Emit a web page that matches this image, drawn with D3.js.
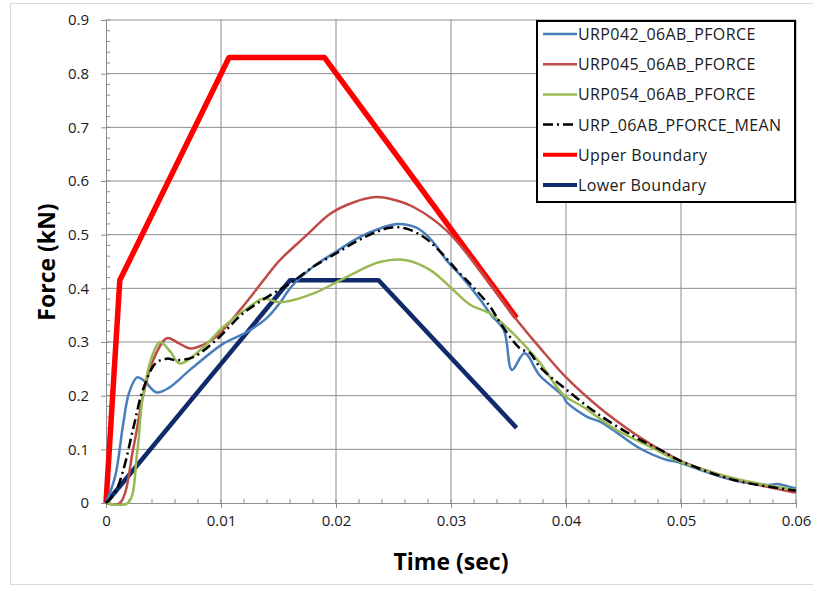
<!DOCTYPE html>
<html>
<head>
<meta charset="utf-8">
<script src="https://cdn.jsdelivr.net/npm/d3@7"></script>
<style>
  body { margin: 0; background: #fff; }
  text { font-family: "Open Sans", Lato, sans-serif; }
</style>
</head>
<body>
<div id="chart"></div>
<script>
// values: [time (sec), force (kN)]

const urp042 = [[0,0],[0.0008,0.05],[0.0015,0.148],[0.002,0.205],[0.0027,0.234],[0.0033,0.228],[0.0044,0.206],
  [0.0055,0.215],[0.0073,0.248],[0.0102,0.297],[0.0122,0.318],[0.014,0.345],[0.0152,0.375],[0.016,0.400],
  [0.018,0.44],[0.02,0.468],[0.022,0.495],[0.024,0.513],[0.0254,0.52],[0.027,0.513],[0.0283,0.49],
  [0.0296,0.4525],[0.031,0.42],[0.0325,0.38],[0.0335,0.35],[0.0346,0.322],[0.0353,0.248],[0.0364,0.279],
  [0.0377,0.238],[0.0398,0.198],[0.040,0.189],[0.0418,0.161],[0.043,0.151],[0.0441,0.136],[0.0464,0.102],
  [0.0488,0.08],[0.0496,0.077],[0.0517,0.0615],[0.0545,0.043],[0.0577,0.0335],[0.0583,0.0354],[0.06,0.027]];

const urp045 = [[0,0],[0.0012,0],[0.0024,0.105],[0.0032,0.198],[0.0041,0.266],[0.0053,0.307],[0.0063,0.298],
  [0.0073,0.288],[0.0085,0.295],[0.0096,0.31],[0.0119,0.366],[0.0137,0.415],[0.0151,0.452],[0.0175,0.5],
  [0.0195,0.539],[0.0215,0.56],[0.0235,0.57],[0.0252,0.564],[0.0267,0.552],[0.0296,0.508],[0.0325,0.434],
  [0.0354,0.35],[0.0377,0.29],[0.0401,0.232],[0.043,0.176],[0.0459,0.13],[0.0482,0.099],[0.0499,0.079],
  [0.052,0.062],[0.0546,0.045],[0.0575,0.03],[0.06,0.019]];

const urp054 = [[0,0],[0.0019,0],[0.0027,0.0925],[0.0032,0.198],[0.0041,0.279],[0.0047,0.30],[0.0056,0.282],
  [0.0064,0.26],[0.0082,0.285],[0.0102,0.328],[0.0125,0.366],[0.0137,0.381],[0.0151,0.374],[0.018,0.39],
  [0.0209,0.421],[0.0238,0.449],[0.0261,0.4525],[0.0282,0.434],[0.0302,0.397],[0.0317,0.369],[0.0334,0.353],
  [0.0354,0.316],[0.0377,0.262],[0.0398,0.201],[0.0415,0.179],[0.0444,0.136],[0.0473,0.105],[0.0499,0.077],
  [0.0546,0.046],[0.06,0.024]];

const urpMean = [[0,0],[0.0008,0.02],[0.0015,0.061],[0.0024,0.142],[0.0032,0.21],[0.0043,0.26],[0.0053,0.269],
  [0.0061,0.266],[0.0076,0.272],[0.0096,0.304],[0.0119,0.353],[0.0145,0.39],[0.016,0.409],[0.018,0.44],
  [0.02,0.465],[0.022,0.49],[0.0235,0.505],[0.0247,0.513],[0.026,0.512],[0.0276,0.496],[0.029,0.47],
  [0.0305,0.434],[0.0319,0.403],[0.0334,0.366],[0.0343,0.335],[0.036,0.288],[0.0369,0.279],[0.0377,0.254],
  [0.0401,0.21],[0.0427,0.167],[0.0459,0.124],[0.0482,0.099],[0.0499,0.079],[0.0546,0.043],[0.06,0.023]];

const upperBoundary = [[0,0],[0.0012,0.415],[0.0107,0.83],[0.019,0.83],[0.0357,0.345]];
const lowerBoundary = [[0,0],[0.016,0.415],[0.0237,0.415],[0.0357,0.14]];

const seriesNames = ["URP042_06AB_PFORCE", "URP045_06AB_PFORCE", "URP054_06AB_PFORCE",
                     "URP_06AB_PFORCE_MEAN", "Upper Boundary", "Lower Boundary"];

const xTicks = [0, 0.01, 0.02, 0.03, 0.04, 0.05, 0.06];
const yTicks = [0, 0.1, 0.2, 0.3, 0.4, 0.5, 0.6, 0.7, 0.8, 0.9];

const drawChart = () => {
  const width = 813;
  const height = 592;
  const left = 106, right = 796, top = 20, bottom = 503;

  const xScale = d3.scaleLinear().domain([0, 0.06]).range([left, right]);
  const yScale = d3.scaleLinear().domain([0, 0.9]).range([bottom, top]);

  const svg = d3.select("#chart")
                .append("svg")
                .attr("width", width)
                .attr("height", height);

  svg.append("rect")
     .attr("width", width).attr("height", height)
     .attr("fill", "#fff");

  // outer chart frame
  svg.append("rect")
     .attr("x", 10.5).attr("y", 3.5)
     .attr("width", 820).attr("height", 581)
     .attr("fill", "none")
     .attr("stroke", "#d9d9d9");

  // gridlines
  svg.append("g")
     .selectAll("line")
     .data(yTicks.slice(1))
     .join("line")
     .attr("x1", left).attr("x2", right)
     .attr("y1", d => yScale(d)).attr("y2", d => yScale(d))
     .attr("stroke", "#8c8c8c").attr("stroke-width", 1);

  svg.append("g")
     .selectAll("line")
     .data(xTicks.slice(1))
     .join("line")
     .attr("x1", d => xScale(d)).attr("x2", d => xScale(d))
     .attr("y1", top).attr("y2", bottom)
     .attr("stroke", "#8c8c8c").attr("stroke-width", 1);

  // minor ticks
  const xMinor = d3.range(0, 31).map(i => i * 0.002);
  const yMinor = d3.range(0, 46).map(i => i * 0.02);

  svg.append("g")
     .selectAll("line")
     .data(xMinor)
     .join("line")
     .attr("x1", d => xScale(d)).attr("x2", d => xScale(d))
     .attr("y1", bottom).attr("y2", bottom - 4)
     .attr("stroke", "#8c8c8c");

  svg.append("g")
     .selectAll("line")
     .data(yMinor)
     .join("line")
     .attr("x1", left).attr("x2", left + 4)
     .attr("y1", d => yScale(d)).attr("y2", d => yScale(d))
     .attr("stroke", "#8c8c8c");

  // axes
  const xAxis = svg.append("g")
     .attr("transform", `translate(0,${bottom})`)
     .call(d3.axisBottom(xScale).tickValues(xTicks).tickSize(5).tickPadding(7)
             .tickFormat(d => d === 0 ? "0" : d3.format(".2f")(d)));

  const yAxis = svg.append("g")
     .attr("transform", `translate(${left},0)`)
     .call(d3.axisLeft(yScale).tickValues(yTicks).tickSize(5).tickPadding(12)
             .tickFormat(d => d === 0 ? "0" : d3.format(".1f")(d)));

  [xAxis, yAxis].forEach(ax => {
    ax.select(".domain").attr("stroke", "#8c8c8c");
    ax.selectAll(".tick line").attr("stroke", "#8c8c8c");
    ax.selectAll(".tick text")
      .attr("fill", "#1a1a1a")
      .style("font-size", "15px")
      .style("font-family", "'Open Sans', sans-serif");
  });

  // axis titles
  svg.append("text")
     .attr("x", 451).attr("y", 570)
     .attr("text-anchor", "middle")
     .style("font-size", "23px").style("font-weight", "bold")
     .text("Time (sec)");

  svg.append("text")
     .attr("transform", "translate(55,262) rotate(-90)")
     .attr("text-anchor", "middle")
     .style("font-size", "23px").style("font-weight", "bold")
     .text("Force (kN)");

  const smooth = d3.line()
                   .x(d => xScale(d[0]))
                   .y(d => yScale(d[1]))
                   .curve(d3.curveCatmullRom.alpha(0.5));

  const straight = d3.line()
                     .x(d => xScale(d[0]))
                     .y(d => yScale(d[1]));

  const series = [
    { data: urp042, color: "#4a7ebb", width: 2.5, dash: null, line: smooth },
    { data: urp045, color: "#be4b48", width: 2.5, dash: null, line: smooth },
    { data: urp054, color: "#98b954", width: 2.5, dash: null, line: smooth },
    { data: urpMean, color: "#000", width: 2.5, dash: "10,4,2,4", line: smooth },
    { data: upperBoundary, color: "#ff0000", width: 5.5, dash: null, line: straight },
    { data: lowerBoundary, color: "#102a6b", width: 4.5, dash: null, line: straight }
  ];

  // draw order: boundaries under the measured curves like in the picture
  const drawOrder = [4, 5, 0, 1, 2, 3];
  drawOrder.forEach(i => {
    const s = series[i];
    svg.append("path")
       .datum(s.data)
       .attr("d", s.line)
       .attr("fill", "none")
       .attr("stroke", s.color)
       .attr("stroke-width", s.width)
       .attr("stroke-dasharray", s.dash)
       .attr("stroke-linejoin", "round");
  });

  // legend
  const legend = svg.append("g");
  legend.append("rect")
        .attr("x", 537).attr("y", 21)
        .attr("width", 258).attr("height", 181)
        .attr("fill", "#fff")
        .attr("stroke", "#000")
        .attr("stroke-width", 2);

  const rows = legend.selectAll("g.row")
                     .data(seriesNames)
                     .join("g")
                     .attr("class", "row")
                     .attr("transform", (d, i) => `translate(543,${34 + i * 30.2})`);

  rows.append("line")
      .attr("x1", 0).attr("x2", 34)
      .attr("stroke", (d, i) => series[i].color)
      .attr("stroke-width", (d, i) => i >= 4 ? 4 : 2.5)
      .attr("stroke-dasharray", (d, i) => i === 3 ? "10,4,2,4" : null);

  rows.append("text")
      .attr("x", 35).attr("y", 6)
      .style("font-size", "16px")
      .style("letter-spacing", "0.4px")
      .attr("fill", "#1a1a1a")
      .text(d => d);
}

drawChart();
</script>
</body>
</html>
